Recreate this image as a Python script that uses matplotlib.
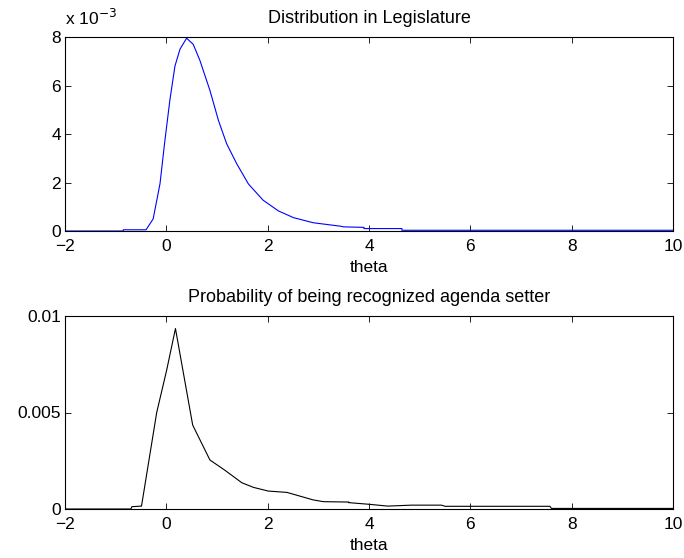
import matplotlib
matplotlib.use('Agg')
from matplotlib import pyplot as plt

# distribution of legislators over theta (values in units of 1e-3)
theta_dist = [-2.0, -0.85, -0.85, -0.4, -0.26, -0.125, -0.03, 0.07, 0.17, 0.27, 0.40,
              0.53, 0.66, 0.86, 1.03, 1.19, 1.39, 1.62, 1.91, 2.21, 2.51, 2.90, 3.43,
              3.5, 3.9, 3.9, 4.65, 4.65, 10.0]
dist_vals = [0.0, 0.0, 0.05, 0.05, 0.5, 1.95, 3.7, 5.4, 6.8, 7.5, 7.95,
             7.7, 7.05, 5.8, 4.55, 3.6, 2.77, 1.94, 1.27, 0.83, 0.55, 0.34, 0.2,
             0.17, 0.15, 0.1, 0.1, 0.03, 0.03]

# probability of being recognized agenda setter (values in units of 1e-3)
theta_prob = [-2.0, -0.7, -0.68, -0.49, -0.19, 0.007, 0.18, 0.52, 0.86, 1.16, 1.49,
              1.72, 2.01, 2.38, 2.90, 3.10, 3.6, 3.6, 4.02, 4.37, 4.84, 5.43, 5.5,
              7.57, 7.6, 10.0]
prob_vals = [0.0, 0.0, 0.12, 0.15, 5.0, 7.2, 9.35, 4.35, 2.54, 2.0, 1.36,
             1.12, 0.93, 0.86, 0.47, 0.38, 0.36, 0.33, 0.24, 0.15, 0.2, 0.2, 0.14,
             0.14, 0.03, 0.03]

xticks = [-2, 0, 2, 4, 6, 8, 10]
xticklabels = ['\u22122', '0', '2', '4', '6', '8', '10']

plt.rcParams['font.family'] = ['Liberation Sans', 'DejaVu Sans']
plt.rcParams['font.size'] = 12.5

fig = plt.figure(figsize=(6.84, 5.58), dpi=100)
W, H = 684.0, 558.0

def style_axes(ax):
    ax.tick_params(direction='in', top=True, right=True, length=4, width=0.6,
                   labelsize=12.5)
    ax.tick_params(axis='x', pad=6)
    ax.tick_params(axis='y', pad=3)
    for s in ax.spines.values():
        s.set_linewidth(0.8)

# top panel
ax1 = fig.add_axes([65 / W, 1 - 231 / H, 608 / W, 194 / H])
ax1.plot(theta_dist, [v * 1e-3 for v in dist_vals], color='blue', lw=0.8)
ax1.set_xlim(-2, 10)
ax1.set_ylim(0, 8e-3)
ax1.set_xticks(xticks)
ax1.set_xticklabels(xticklabels)
ax1.set_yticks([0, 2e-3, 4e-3, 6e-3, 8e-3])
ax1.set_yticklabels(['0', '2', '4', '6', '8'])
ax1.set_xlabel('theta', labelpad=4)
ax1.set_title('Distribution in Legislature', fontsize=13, pad=10)
ax1.text(0.0, 1.045, r'x 10$^{-3}$', transform=ax1.transAxes, fontsize=12.5,
         ha='left', va='bottom')
style_axes(ax1)

# bottom panel
ax2 = fig.add_axes([65 / W, 1 - 509 / H, 608 / W, 193 / H])
ax2.plot(theta_prob, [v * 1e-3 for v in prob_vals], color='black', lw=0.8)
ax2.set_xlim(-2, 10)
ax2.set_ylim(0, 0.01)
ax2.set_xticks(xticks)
ax2.set_xticklabels(xticklabels)
ax2.set_yticks([0, 0.005, 0.01])
ax2.set_yticklabels(['0', '0.005', '0.01'])
ax2.set_xlabel('theta', labelpad=4)
ax2.set_title('Probability of being recognized agenda setter', fontsize=13, pad=10)
style_axes(ax2)

fig.savefig('out.png', dpi=100)
